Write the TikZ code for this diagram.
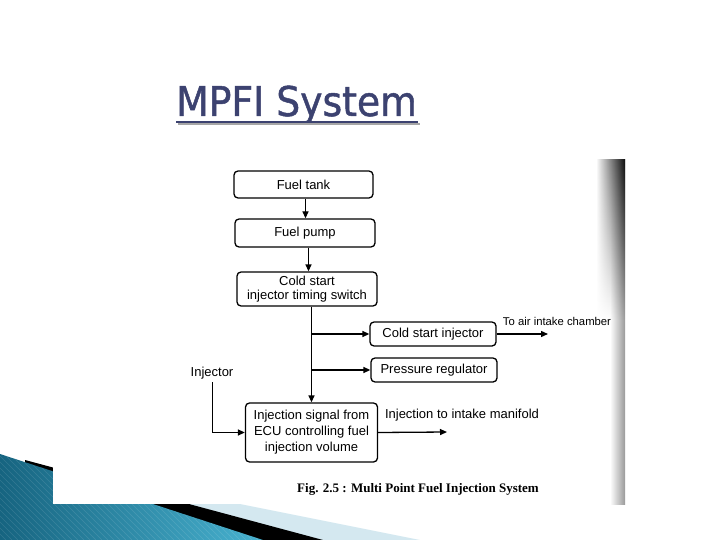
\documentclass[tikz,border=0pt]{standalone}
\usepackage{fontspec}
\setmainfont{Liberation Sans}
\newfontfamily\titlefont[FakeBold=1.2]{DejaVu Sans}
\newfontfamily\capfont{Liberation Serif}
\usetikzlibrary{arrows.meta,fadings}
\definecolor{titleblue}{RGB}{60,66,112}
\definecolor{tealdark}{RGB}{22,100,128}
\definecolor{teallight}{RGB}{72,178,208}
\definecolor{paleblue}{RGB}{212,232,240}
\begin{document}
\begin{tikzpicture}[x=1pt,y=-1pt,
  box/.style={draw, rounded corners=4pt, line width=1.3pt, inner sep=0pt, align=center, font=\fontsize{13}{14}\selectfont},
  arr/.style={line width=1.3pt, -{Triangle[length=7pt,width=6pt]}},
  lbl/.style={inner sep=0pt, font=\fontsize{13}{14}\selectfont}]
\useasboundingbox (0,0) rectangle (720,540);
\fill[white] (0,0) rectangle (720,540);
% corner decoration
\fill[paleblue] (120,480) -- (420,540) -- (120,540) -- cycle;
\fill[black] (25,460) -- (323,540) -- (25,540) -- cycle;
\shade[left color=tealdark, right color=teallight] (0,454) -- (263,540) -- (0,540) -- cycle;
\begin{scope}
  \clip (0,454) -- (263,540) -- (0,540) -- cycle;
  \foreach \i in {-100,-94,...,300} {\draw[white, opacity=0.12, line width=0.5pt] (\i,440) -- (\i+100,540);}
\end{scope}
% scanned figure area
\fill[white] (53,160) rectangle (625,504);
\shade[left color=white, right color=black!40] (610,160) rectangle (625,504);
\shade[left color=white, right color=black!95, path fading=south] (596,160) rectangle (625,320);
% title
\node[anchor=base west, inner sep=0pt, text=titleblue] (title) at (176,116) {\titlefont\fontsize{41}{41}\selectfont\scalebox{0.92}[1]{MPFI System}};
\draw[black!35, line width=2.5pt] (178,124) -- (420,124);
\draw[titleblue, line width=2.5pt] (176,122) -- (418,122);
% boxes
\node[box, minimum width=139pt, minimum height=27pt] (tank) at (303.5,184.5) {Fuel tank};
\node[box, minimum width=140pt, minimum height=28pt] (pump) at (305,233) {Fuel pump};
\node[box, minimum width=140pt, minimum height=34pt] (switch) at (307,289) {Cold start\\injector timing switch};
\node[box, minimum width=126pt, minimum height=24pt] (cs) at (433,334) {Cold start injector};
\node[box, minimum width=126pt, minimum height=24pt] (pr) at (434,370) {Pressure regulator};
\node[box, minimum width=132pt, minimum height=59pt, font=\fontsize{13}{16}\selectfont] (inj) at (311.5,432.5) {Injection signal from\\ECU controlling fuel\\injection volume};
% labels
\node[lbl] (injlbl) at (212,373) {Injector};
\node[lbl, font=\fontsize{11.3}{12}\selectfont] (airlbl) at (557,321) {To air intake chamber};
\node[lbl] (manlbl) at (462,415) {Injection to intake manifold};
\coordinate (airend) at (548,334);
\coordinate (manend) at (447,432);
\coordinate (c1) at (305.5,0);
\coordinate (c2) at (308.5,0);
% connectors
\draw[arr] (tank.south -| c1) -- (pump.north -| c1);
\draw[arr] (pump.south -| c2) -- (switch.north -| c2);
\draw[arr] (switch.south -| inj.north) -- (inj.north);
\draw[arr] (cs.west -| inj.north) -- (cs.west);
\draw[arr] (pr.west -| inj.north) -- (pr.west);
\draw[arr] (cs.east) -- (airend);
\draw[arr] (inj.east) -- (manend);
\draw[arr] (injlbl.south) ++(0.5,3) |- (inj.west);
% caption
\node[inner sep=0pt] (cap) at (418,489) {\capfont\bfseries\fontsize{13}{14}\selectfont Fig. 2.5 : Multi Point Fuel Injection System};
\end{tikzpicture}
\end{document}
